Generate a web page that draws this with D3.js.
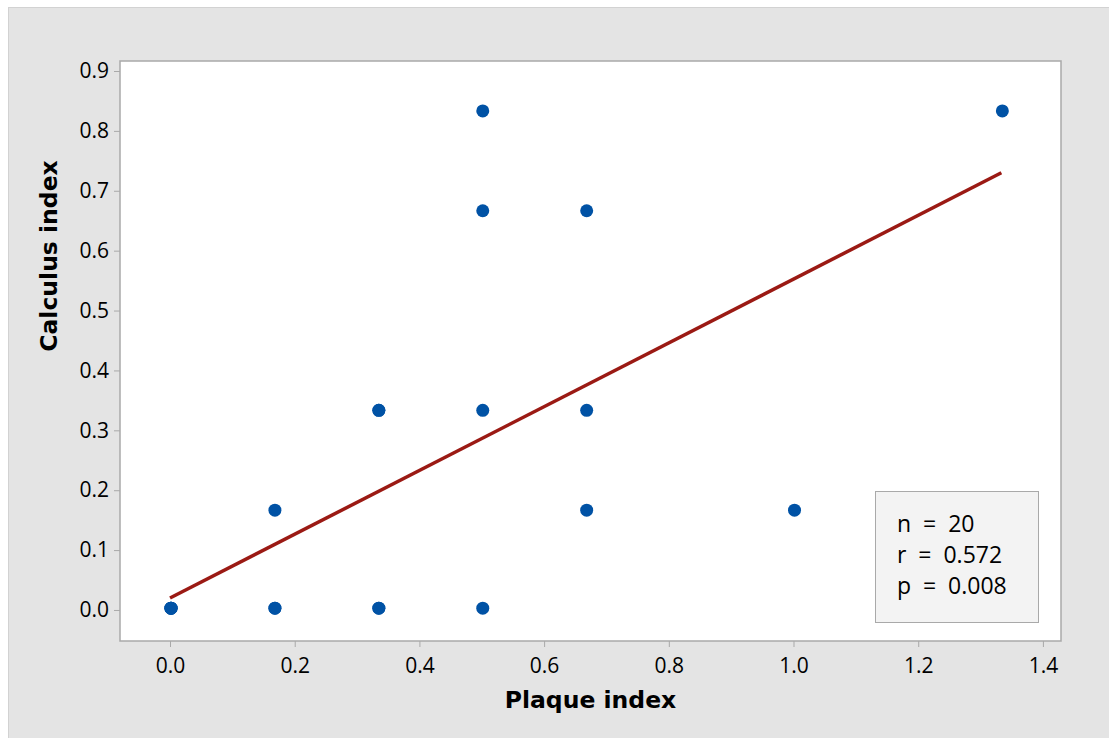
<!DOCTYPE html>
<html>
<head>
<meta charset="utf-8">
<script src="https://cdn.jsdelivr.net/npm/d3@7"></script>
<style>
  html, body { margin: 0; padding: 0; background: #fff; }
  svg { display: block; }
  text { font-family: "DejaVu Sans", Verdana, sans-serif; }
</style>
</head>
<body>
<div id="chart"></div>
<script>
// plaque index (x) vs calculus index (y), duplicates overlap
const plaqueIndex = [0, 0, 0, 1/6, 1/6, 1/6, 1/3, 1/3, 1/3, 1/3, 1/2, 1/2, 1/2, 1/2, 2/3, 2/3, 2/3, 1, 4/3, 0];
const calculusIndex = [0.003, 0.003, 0.003, 0.003, 0.003, 1/6, 0.003, 0.003, 1/3, 1/3, 0.003, 1/3, 2/3, 5/6, 1/6, 1/3, 2/3, 1/6, 5/6, 0.003];
const xTicks = [0, 0.2, 0.4, 0.6, 0.8, 1.0, 1.2, 1.4];
const yTicks = [0, 0.1, 0.2, 0.3, 0.4, 0.5, 0.6, 0.7, 0.8, 0.9];
const fitX = [0, 4/3];
const fitY = [0.02, 0.73];
const statsLines = ["n = 20", "r = 0.572", "p = 0.008"];

const svgWidth = 1109, svgHeight = 738;
const margin = {top: 61, right: 48, bottom: 97, left: 120};
const width = svgWidth - margin.left - margin.right;
const height = svgHeight - margin.top - margin.bottom;

const svg = d3.select("#chart").append("svg")
    .attr("width", svgWidth)
    .attr("height", svgHeight);

svg.append("rect")
    .attr("x", 8.5).attr("y", 7.5)
    .attr("width", svgWidth - 8).attr("height", svgHeight - 7)
    .attr("fill", "#e4e4e4")
    .attr("stroke", "#d2d2d2");

const plotArea = svg.append("g")
    .attr("transform", `translate(${margin.left},${margin.top})`);

plotArea.append("rect")
    .attr("width", width).attr("height", height)
    .attr("fill", "#fff")
    .attr("stroke", "#a9a9a9")
    .attr("stroke-width", 1.5);

const x = d3.scaleLinear().domain([-0.0802, 1.429]).range([0, width]);
const y = d3.scaleLinear().domain([-0.0518, 0.9167]).range([height, 0]);

const xAxis = plotArea.append("g")
    .attr("transform", `translate(0,${height})`)
    .call(d3.axisBottom(x).tickValues(xTicks).tickFormat(d3.format(".1f")).tickSize(6).tickPadding(8));

const yAxis = plotArea.append("g")
    .call(d3.axisLeft(y).tickValues(yTicks).tickFormat(d3.format(".1f")).tickSize(6).tickPadding(5));

[xAxis, yAxis].forEach(a => {
    a.select(".domain").remove();
    a.selectAll(".tick line").attr("stroke", "#a9a9a9");
    a.selectAll(".tick text")
        .attr("fill", "#000")
        .style("font-family", "'Open Sans', 'Noto Sans', sans-serif")
        .style("font-size", "21px");
});
xAxis.selectAll(".tick text").attr("dy", "0.85em");

plotArea.selectAll(".pt")
    .data(d3.zip(plaqueIndex, calculusIndex))
    .enter().append("circle")
    .attr("class", "pt")
    .attr("cx", d => x(d[0]) + 1)
    .attr("cy", d => y(d[1]))
    .attr("r", 6.5)
    .attr("fill", "#0052a5");

plotArea.append("line")
    .attr("x1", x(fitX[0])).attr("y1", y(fitY[0]))
    .attr("x2", x(fitX[1])).attr("y2", y(fitY[1]))
    .attr("stroke", "#9b1a14")
    .attr("stroke-width", 3.5);

// stats box
const box = plotArea.append("g")
    .attr("transform", `translate(${875 - margin.left},${491 - margin.top})`);
box.append("rect")
    .attr("x", 0.5).attr("y", 0.5)
    .attr("width", 163).attr("height", 131)
    .attr("fill", "#f3f3f3")
    .attr("stroke", "#a9a9a9");
box.selectAll("text")
    .data(statsLines)
    .enter().append("text")
    .attr("x", 22)
    .attr("y", (d, i) => 41 + i * 31)
    .style("font-family", "'Open Sans', 'Noto Sans', sans-serif")
    .style("font-size", "23px")
    .attr("fill", "#000")
    .attr("xml:space", "preserve")
    .text(d => d.replace(/ = /, "  =  "));

svg.append("text")
    .attr("x", margin.left + width / 2)
    .attr("y", 708)
    .attr("text-anchor", "middle")
    .style("font-size", "23.5px")
    .style("font-weight", "bold")
    .text("Plaque index");

svg.append("text")
    .attr("transform", `translate(57,256) rotate(-90)`)
    .attr("text-anchor", "middle")
    .style("font-size", "23.5px")
    .style("font-weight", "bold")
    .text("Calculus index");
</script>
</body>
</html>
